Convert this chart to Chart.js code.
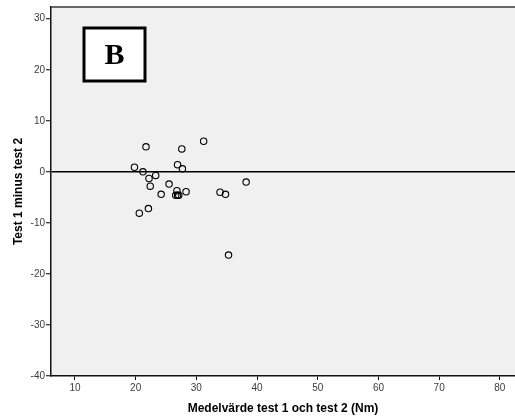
<!DOCTYPE html>
<html>
<head>
<meta charset="utf-8">
<script src="https://cdn.jsdelivr.net/npm/chart.js"></script>
<style>
  body { margin: 0; background: #ffffff; }
  #wrap { width: 515px; height: 418px; }
</style>
</head>
<body>
<div id="wrap"><canvas id="blandAltmanChart" width="515" height="418"></canvas></div>
<script>
// Mean of test 1 and test 2 (Nm)
const meanValues = [21.7, 27.6, 31.2, 19.8, 21.2, 23.3, 22.2, 26.9, 27.7, 38.2, 22.4, 25.5,
                    26.8, 24.2, 28.3, 26.6, 26.9, 27.1, 33.9, 34.8, 20.6, 22.1, 35.3];
// Test 1 minus test 2
const diffValues = [4.9, 4.5, 6.0, 0.9, 0.0, -0.7, -1.3, 1.4, 0.6, -2.0, -2.8, -2.4,
                    -3.7, -4.4, -3.9, -4.6, -4.6, -4.6, -4.0, -4.4, -8.1, -7.2, -16.3];

const xTicks = [10, 20, 30, 40, 50, 60, 70, 80];
const yTicks = [-40, -30, -20, -10, 0, 10, 20, 30];
const panelLabel = 'B';

const points = meanValues.map((m, i) => ({ x: m, y: diffValues[i] }));

// plot background, top frame line and the panel letter box
const panelPlugin = {
    id: 'panel',
    beforeDraw(chart) {
        const { ctx, chartArea: a } = chart;
        ctx.save();
        ctx.fillStyle = '#f0f0f0';
        ctx.fillRect(a.left, a.top, a.right - a.left, a.bottom - a.top);
        ctx.restore();
    },
    afterDraw(chart) {
        const { ctx, chartArea: a } = chart;
        ctx.save();
        ctx.strokeStyle = '#3a3a3a';
        ctx.lineWidth = 1.5;
        ctx.beginPath();
        ctx.moveTo(a.left, a.top);
        ctx.lineTo(a.right, a.top);
        ctx.stroke();

        const bx = a.left + 33, by = a.top + 21, bw = 61, bh = 53;
        ctx.fillStyle = '#ffffff';
        ctx.fillRect(bx, by, bw, bh);
        ctx.strokeStyle = '#000000';
        ctx.lineWidth = 3;
        ctx.strokeRect(bx, by, bw, bh);
        ctx.fillStyle = '#000000';
        ctx.font = 'bold 30px "Liberation Serif", "Times New Roman", serif';
        ctx.textAlign = 'center';
        ctx.textBaseline = 'middle';
        ctx.fillText(panelLabel, bx + bw / 2, by + bh / 2 + 2);
        ctx.restore();
    }
};

new Chart(document.getElementById('blandAltmanChart'), {
    type: 'scatter',
    data: {
        datasets: [{
            data: points,
            pointStyle: 'circle',
            pointRadius: 3.2,
            pointHoverRadius: 3.2,
            borderColor: '#000000',
            borderWidth: 1.1,
            backgroundColor: 'rgba(0,0,0,0)'
        }]
    },
    options: {
        responsive: false,
        animation: false,
        layout: { autoPadding: false, padding: { top: 6, left: 0, right: 0, bottom: 0 } },
        plugins: {
            legend: { display: false },
            tooltip: { enabled: false }
        },
        scales: {
            x: {
                type: 'linear',
                min: 6.05,
                max: 82.5,
                afterBuildTicks: (scale) => { scale.ticks = xTicks.map(v => ({ value: v })); },
                afterFit: (scale) => { scale.height = 42; },
                grid: { drawOnChartArea: false, tickLength: 4, color: '#000000' },
                border: { display: true, color: '#111111', width: 1.5 },
                ticks: {
                    padding: 2,
                    color: '#3c3c3c',
                    font: { family: 'Arial, "Liberation Sans", sans-serif', size: 10 }
                },
                title: {
                    display: true,
                    text: 'Medelvärde test 1 och test 2 (Nm)',
                    color: '#000000',
                    padding: { top: 0, bottom: 2 },
                    font: { family: 'Arial, "Liberation Sans", sans-serif', size: 12, weight: 'bold' }
                }
            },
            y: {
                type: 'linear',
                min: -40,
                max: 32.3,
                afterBuildTicks: (scale) => { scale.ticks = yTicks.map(v => ({ value: v })); },
                afterFit: (scale) => { scale.width = 51; },
                grid: {
                    drawOnChartArea: true,
                    tickLength: 5,
                    color: (c) => (c.tick && c.tick.value === 0 ? '#000000' : 'rgba(0,0,0,0)'),
                    lineWidth: 1.5,
                    tickColor: '#000000',
                    tickWidth: 1
                },
                border: { display: true, color: '#111111', width: 1.5 },
                ticks: {
                    padding: 1,
                    color: '#3c3c3c',
                    font: { family: 'Arial, "Liberation Sans", sans-serif', size: 10 }
                },
                title: {
                    display: true,
                    text: 'Test 1 minus test 2',
                    color: '#000000',
                    padding: { top: 11, bottom: 0 },
                    font: { family: 'Arial, "Liberation Sans", sans-serif', size: 12, weight: 'bold' }
                }
            }
        }
    },
    plugins: [panelPlugin]
});
</script>
</body>
</html>
